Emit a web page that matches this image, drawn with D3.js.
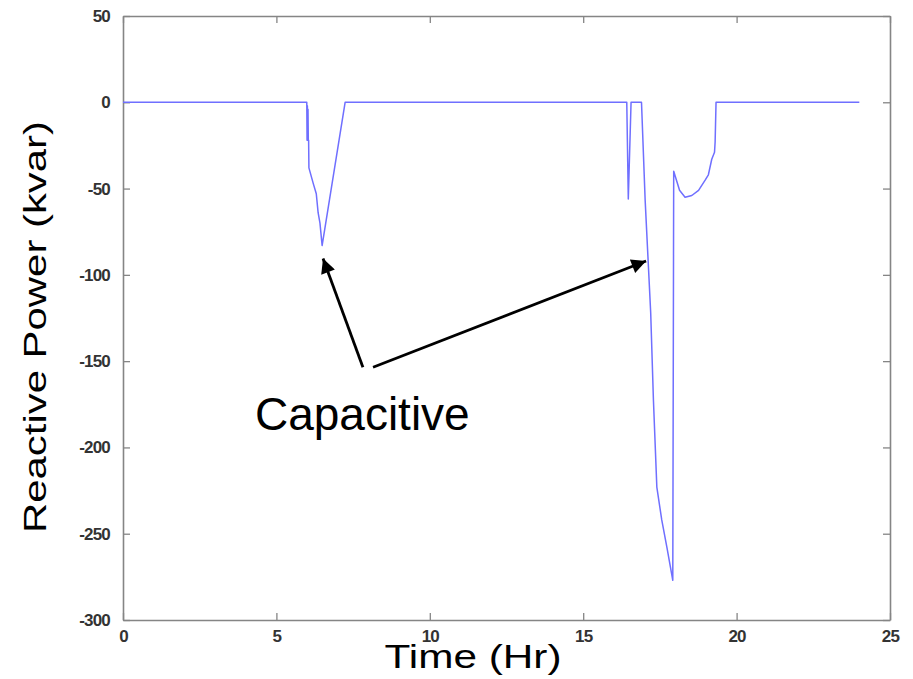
<!DOCTYPE html>
<html>
<head>
<meta charset="utf-8">
<script src="https://cdn.jsdelivr.net/npm/d3@7/dist/d3.min.js"></script>
<style>
  html, body { margin: 0; padding: 0; background: #fff; }
  svg { display: block; }
</style>
</head>
<body>
<svg id="chart" width="913" height="679"></svg>
<script>
// ---- data ----
const timeHr = [0, 5.99, 6.0, 6.01, 6.02, 6.03, 6.04, 6.05, 6.06, 6.2, 6.3, 6.36, 6.42, 6.49, 7.24,
  16.42, 16.47, 16.56, 16.9, 17.02, 17.2, 17.29, 17.4, 17.56, 17.73, 17.92, 17.95, 18.14, 18.32,
  18.54, 18.76, 18.98, 19.08, 19.19, 19.28, 19.3, 19.33, 24.0];
const reactiveKvar = [0, 0, -22, -2, -22, -4, -22, -22, -38, -47, -53, -64, -70, -83, 0,
  0, -56, 0, 0, -57, -122, -173, -223, -242, -258, -277, -40, -51, -55,
  -54, -51, -45, -42, -33, -29, -23, 0, 0];
const xTicks = [0, 5, 10, 15, 20, 25];
const yTicks = [50, 0, -50, -100, -150, -200, -250, -300];
const xDomain = [0, 25];
const yDomain = [-300, 50];
const xLabel = "Time (Hr)";
const yLabel = "Reactive Power (kvar)";
const noteText = "Capacitive";
// annotation arrows in data units: [tailTime, tailValue, tipTime, tipValue]
const noteArrows = [[7.82, -153.5, 6.52, -90.5], [8.15, -153.5, 17.05, -92]];
const noteAnchor = [4.3, -190];

(function () {
  const svg = d3.select("#chart");
  const L = 123, R = 890, T = 16, B = 620;
  const x = d3.scaleLinear().domain(xDomain).range([L, R]);
  const y = d3.scaleLinear().domain(yDomain).range([B, T]);
  const axisColor = "#858585";
  const tickFont = "Arial, 'Liberation Sans', sans-serif";
  const tickLen = 7;
  const fmt = d => String(d);

  const gBottom = svg.append("g").attr("transform", `translate(0,${B})`)
    .call(d3.axisBottom(x).tickValues(xTicks).tickSizeInner(-tickLen).tickSizeOuter(0).tickPadding(10).tickFormat(fmt));
  const gTop = svg.append("g").attr("transform", `translate(0,${T})`)
    .call(d3.axisTop(x).tickValues(xTicks).tickSizeInner(-tickLen).tickSizeOuter(0).tickFormat(""));
  const gLeft = svg.append("g").attr("transform", `translate(${L},0)`)
    .call(d3.axisLeft(y).tickValues(yTicks).tickSizeInner(-tickLen).tickSizeOuter(0).tickPadding(13).tickFormat(fmt));
  const gRight = svg.append("g").attr("transform", `translate(${R},0)`)
    .call(d3.axisRight(y).tickValues(yTicks).tickSizeInner(-tickLen).tickSizeOuter(0).tickFormat(""));

  [gBottom, gTop, gLeft, gRight].forEach(g => {
    g.select(".domain").attr("stroke", axisColor).attr("stroke-width", 1.6);
    g.selectAll(".tick line").attr("stroke", axisColor).attr("stroke-width", 1.3);
    g.selectAll("text").attr("fill", "#333").style("font-family", tickFont).style("font-size", "17px")
      .style("letter-spacing", "-0.8px").style("font-weight", "bold");
  });

  const line = d3.line().x((d, i) => x(timeHr[i])).y(d => y(d));
  svg.append("path")
    .datum(reactiveKvar)
    .attr("d", line)
    .attr("fill", "none")
    .attr("stroke", "#6f6fff")
    .attr("stroke-width", 1.5)
    .attr("stroke-linejoin", "round");

  const defs = svg.append("defs");
  defs.append("marker")
    .attr("id", "ah").attr("viewBox", "0 0 10 10").attr("refX", 10).attr("refY", 5)
    .attr("markerWidth", 6.5).attr("markerHeight", 5.2).attr("markerUnits", "strokeWidth")
    .attr("orient", "auto")
    .append("path").attr("d", "M0,0 L10,5 L0,10 Z").attr("fill", "#000");

  svg.selectAll(".arrow").data(noteArrows).enter().append("line")
    .attr("class", "arrow")
    .attr("x1", d => x(d[0])).attr("y1", d => y(d[1]))
    .attr("x2", d => x(d[2])).attr("y2", d => y(d[3]))
    .attr("stroke", "#000").attr("stroke-width", 2.8)
    .attr("marker-end", "url(#ah)");

  svg.append("text")
    .attr("x", x(noteAnchor[0])).attr("y", y(noteAnchor[1]))
    .style("font-family", "Arial, 'Liberation Sans', sans-serif")
    .style("font-size", "46px").attr("fill", "#000")
    .text(noteText);

  svg.append("text")
    .attr("x", 473).attr("y", 668)
    .attr("text-anchor", "middle")
    .attr("textLength", 177).attr("lengthAdjust", "spacingAndGlyphs")
    .style("font-family", "Arial, 'Liberation Sans', sans-serif")
    .style("font-size", "34px").attr("fill", "#000")
    .text(xLabel);

  svg.append("text")
    .attr("transform", "translate(46,327) rotate(-90)")
    .attr("text-anchor", "middle")
    .attr("textLength", 412).attr("lengthAdjust", "spacingAndGlyphs")
    .style("font-family", "Arial, 'Liberation Sans', sans-serif")
    .style("font-size", "32px").attr("fill", "#000")
    .text(yLabel);
})();
</script>
</body>
</html>
